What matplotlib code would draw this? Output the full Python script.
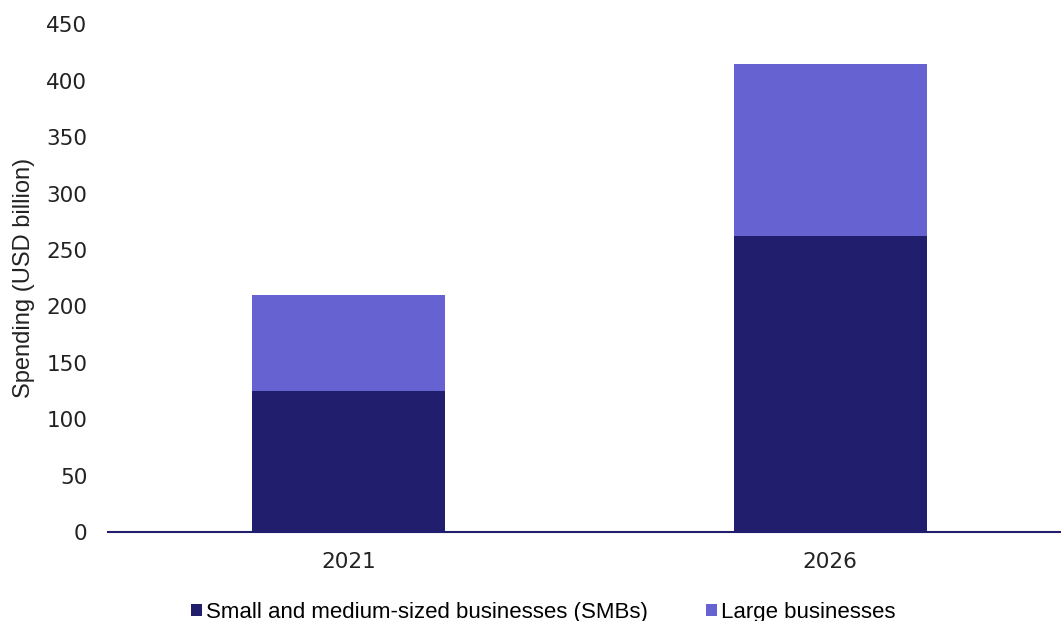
import matplotlib
matplotlib.use("Agg")
import matplotlib.pyplot as plt
import numpy as np

# Data
years = ["2021", "2026"]
smb = [125, 262]
large = [85, 153]
series_names = ["Small and medium-sized businesses (SMBs)", "Large businesses"]
colors = ["#221E6E", "#6762D2"]
yticks = [0, 50, 100, 150, 200, 250, 300, 350, 400, 450]

plt.rcParams['font.family'] = ['Liberation Sans', 'DejaVu Sans']

fig = plt.figure(figsize=(10.61, 6.21), dpi=100)
ax = fig.add_axes([0.102, 0.143, 0.91, 0.818])

x = np.arange(len(years))
ax.bar(x, smb, width=0.4, color=colors[0], label=series_names[0])
ax.bar(x, large, width=0.4, bottom=smb, color=colors[1], label=series_names[1])

ax.set_xlim(-0.498, 1.505)
ax.set_ylim(0, 450)
ax.set_yticks(yticks)
ax.set_xticks(x)
ax.set_xticklabels(years)
ax.tick_params(axis='both', length=0, colors='#222222')
ax.tick_params(axis='y', pad=15)
ax.tick_params(axis='x', pad=14)
for lbl in ax.get_xticklabels() + ax.get_yticklabels():
    lbl.set_fontfamily('DejaVu Sans')
    lbl.set_fontsize(15.5)

for s in ['top', 'right', 'left']:
    ax.spines[s].set_visible(False)
ax.spines['bottom'].set_color(colors[0])
ax.spines['bottom'].set_linewidth(1.5)

ax.set_ylabel("Spending (USD billion)", fontsize=17, color='#222222', labelpad=8)

fig.legend(loc='lower center', bbox_to_anchor=(0.512, -0.035), ncol=2, frameon=False,
           fontsize=16, handlelength=0.5, handleheight=0.5, handletextpad=0.2,
           columnspacing=2.6)

fig.savefig("out.png", dpi=100)
